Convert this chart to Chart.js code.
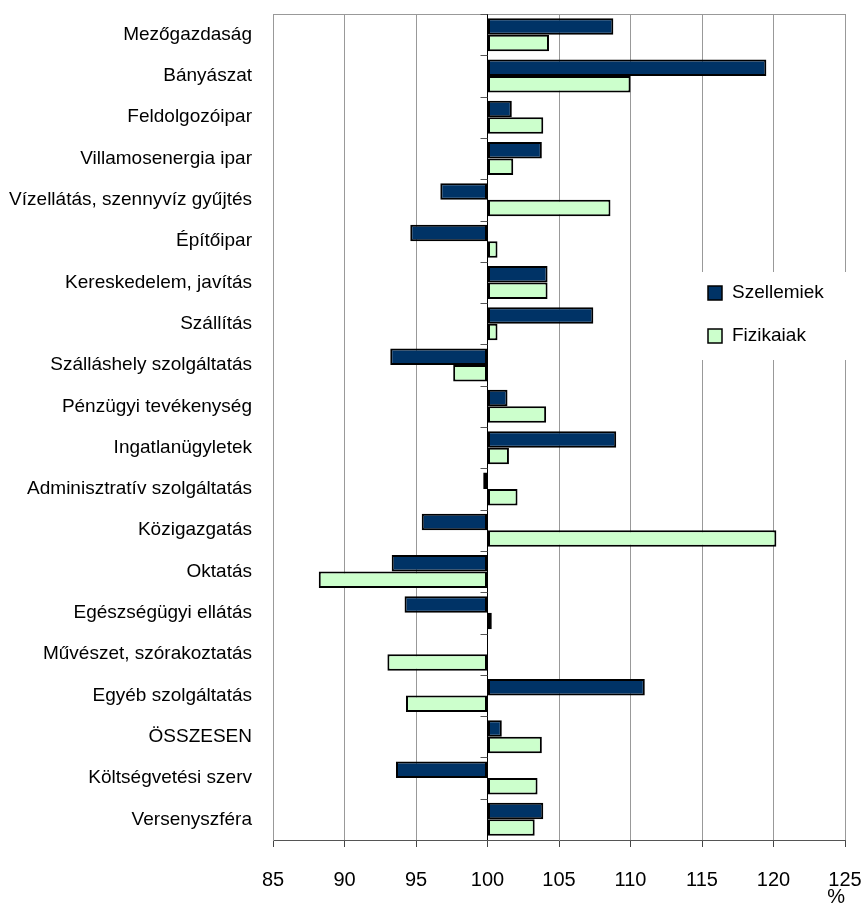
<!DOCTYPE html>
<html>
<head>
<meta charset="utf-8">
<script src="https://cdn.jsdelivr.net/npm/chart.js@4.4.1/dist/chart.umd.min.js"></script>
<style>
  body { margin: 0; background: #fff; }
  #wrap { width: 863px; height: 907px; position: relative; }
</style>
</head>
<body>
<div id="wrap"><canvas id="agakChart"></canvas></div>
<script>
const categories = [
    'Mezőgazdaság', 'Bányászat', 'Feldolgozóipar', 'Villamosenergia ipar',
    'Vízellátás, szennyvíz gyűjtés', 'Építőipar', 'Kereskedelem, javítás',
    'Szállítás', 'Szálláshely szolgáltatás', 'Pénzügyi tevékenység',
    'Ingatlanügyletek', 'Adminisztratív szolgáltatás', 'Közigazgatás',
    'Oktatás', 'Egészségügyi ellátás', 'Művészet, szórakoztatás',
    'Egyéb szolgáltatás', 'ÖSSZESEN', 'Költségvetési szerv', 'Versenyszféra'
];
const szellemiek = [108.8, 119.5, 101.7, 103.8, 96.7, 94.6, 104.2, 107.4, 93.2, 101.4,
    109.0, 99.7, 95.4, 93.3, 94.2, null, 111.0, 101.0, 93.6, 103.9];
const fizikaiak = [104.3, 110.0, 103.9, 101.8, 108.6, 100.7, 104.2, 100.7, 97.6, 104.1,
    101.5, 102.1, 120.2, 88.2, 100.3, 93.0, 94.3, 103.8, 103.5, 103.3];
const seriesNames = ['Szellemiek', 'Fizikaiak'];
const xMin = 85, xMax = 125, xStep = 5, baseValue = 100;

const fontFamily = "'Liberation Sans', Arial, sans-serif";
Chart.defaults.font.family = fontFamily;
Chart.defaults.font.size = 19;
Chart.defaults.color = '#000';

// tengely a 100-as értéknél, kis jelölésekkel + keret teteje
const baseAxis = {
    id: 'baseAxis',
    afterDatasetsDraw(chart) {
        const ctx = chart.ctx;
        const area = chart.chartArea;
        const x = chart.scales.x.getPixelForValue(baseValue);
        const yScale = chart.scales.y;
        const step = (yScale.bottom - yScale.top) / categories.length;
        ctx.save();
        ctx.strokeStyle = '#999';
        ctx.lineWidth = 1;
        ctx.beginPath();
        ctx.moveTo(area.left, area.top + 0.5);
        ctx.lineTo(area.right, area.top + 0.5);
        ctx.stroke();
        ctx.strokeStyle = '#000';
        ctx.beginPath();
        ctx.moveTo(x, area.top);
        ctx.lineTo(x, area.bottom);
        ctx.stroke();
        ctx.strokeStyle = '#555';
        for (let i = 0; i <= categories.length; i++) {
            const y = Math.round(yScale.top + i * step) + 0.5;
            ctx.beginPath();
            ctx.moveTo(x - 7, y);
            ctx.lineTo(x, y);
            ctx.stroke();
        }
        ctx.restore();
    }
};

const boxLegend = {
    id: 'boxLegend',
    afterDraw(chart) {
        const ctx = chart.ctx;
        const area = chart.chartArea;
        const left = area.right - 155;
        const top = area.top + 258;
        ctx.save();
        ctx.fillStyle = '#fff';
        ctx.fillRect(left, top, 165, 88);
        chart.data.datasets.forEach(function (ds, i) {
            const cy = top + 21 + i * 43;
            ctx.fillStyle = ds.backgroundColor;
            ctx.fillRect(left + 18, cy - 7, 14, 14);
            ctx.strokeStyle = '#000';
            ctx.lineWidth = 1.5;
            ctx.strokeRect(left + 18, cy - 7, 14, 14);
            ctx.fillStyle = '#000';
            ctx.font = '19px ' + fontFamily;
            ctx.textBaseline = 'middle';
            ctx.textAlign = 'left';
            ctx.fillText(ds.label, left + 42, cy);
        });
        ctx.restore();
    }
};

new Chart(document.querySelector('#agakChart'), {
    type: 'bar',
    data: {
        labels: categories,
        datasets: [
            {
                label: seriesNames[0],
                data: szellemiek,
                backgroundColor: '#003366',
                borderColor: '#000',
                borderWidth: 2,
                borderSkipped: false,
                base: baseValue,
                barPercentage: 1,
                categoryPercentage: 0.8
            },
            {
                label: seriesNames[1],
                data: fizikaiak,
                backgroundColor: '#ccffcc',
                borderColor: '#000',
                borderWidth: 2,
                borderSkipped: false,
                base: baseValue,
                barPercentage: 1,
                categoryPercentage: 0.8
            }
        ]
    },
    options: {
        indexAxis: 'y',
        responsive: true,
        maintainAspectRatio: false,
        animation: false,
        layout: { padding: { top: 14, right: 18, left: 0, bottom: 0 } },
        plugins: {
            legend: { display: false },
            tooltip: { enabled: false }
        },
        scales: {
            x: {
                min: xMin,
                max: xMax,
                ticks: { stepSize: xStep, padding: 0, font: { size: 20, lineHeight: 3.3 } },
                grid: {
                    color: function (c) { return c.tick && c.tick.value === baseValue ? '#000' : '#999'; },
                    tickColor: '#444',
                    tickLength: 7
                },
                border: { color: '#555' },
                title: {
                    display: true,
                    text: '%',
                    align: 'end',
                    font: { size: 20, lineHeight: 1 },
                    padding: { top: 0, bottom: 0 }
                },
                afterFit: function (scale) { scale.height = 67; }
            },
            y: {
                ticks: { padding: 0, autoSkip: false },
                grid: { display: false, drawTicks: true, tickLength: 21, tickColor: 'rgba(0,0,0,0)' },
                border: { display: true, color: '#999' },
                afterFit: function (scale) { scale.width = 273; }
            }
        }
    },
    plugins: [baseAxis, boxLegend]
});
</script>
</body>
</html>
